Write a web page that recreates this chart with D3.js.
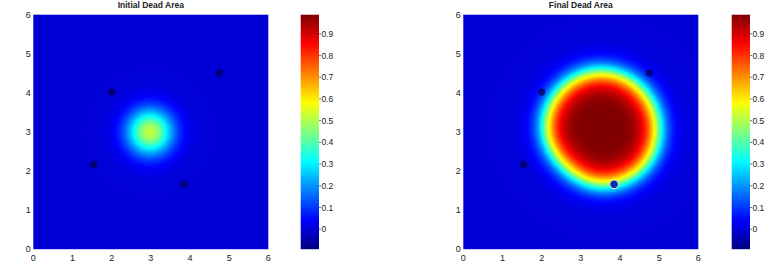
<!DOCTYPE html>
<html>
<head>
<meta charset="utf-8">
<script src="https://cdn.jsdelivr.net/npm/d3@7"></script>
<style>
  html, body { margin: 0; padding: 0; background: #fff; }
  svg { display: block; }
  text { font-family: "Liberation Sans", Arial, Helvetica, sans-serif; fill: #222; }
</style>
</head>
<body>
<script>
// ---------- data ----------
const xTicks = [0, 1, 2, 3, 4, 5, 6];
const yTicks = [0, 1, 2, 3, 4, 5, 6];
const colorbarTicks = [0, 0.1, 0.2, 0.3, 0.4, 0.5, 0.6, 0.7, 0.8, 0.9];
const colorbarLabels = ["0", "0.1", "0.2", "0.3", "0.4", "0.5", "0.6", "0.7", "0.8", "0.9"];
const colorDomain = [-0.092, 0.988];
const titles = ["Initial Dead Area", "Final Dead Area"];

// sensor positions (same in both panels)
const sensorX = [2.0, 4.75, 1.54, 3.85];
const sensorY = [4.02, 4.51, 2.17, 1.66];
const activeSensor = 3; // highlighted in final panel

// initial dead area: small gaussian spot
const initialCenter = [2.98, 3.0];
const initialPeak = 0.52;
const initialSpread = 0.41;

// final dead area: saturated blob, 0.5-contour radius by angle
const finalCenter = [3.53, 3.1];
const finalAngles = [0, 45, 90, 135, 180, 225, 270, 315];
const finalRadii = [1.41, 1.40, 1.42, 1.41, 1.41, 1.35, 1.42, 1.44];
const finalPeak = 1.0;
const finalEdgeInner = 0.2;
const finalEdgeOuter = 0.165;

// ---------- layout ----------
const W = 774, H = 280;
const panels = [
  { x0: 33.3, x1: 268.3, cb0: 300.7, cb1: 319 },
  { x0: 463.3, x1: 698.3, cb0: 731.7, cb1: 750 }
];
const yTop = 14.7, yBot = 249.2;

function jet(t) {
  const c = v => Math.max(0, Math.min(1, v));
  const r = c(Math.min(4 * t - 1.5, -4 * t + 4.5));
  const g = c(Math.min(4 * t - 0.5, -4 * t + 3.5));
  const b = c(Math.min(4 * t + 0.5, -4 * t + 2.5));
  return [Math.round(r * 255), Math.round(g * 255), Math.round(b * 255)];
}
const color = d3.scaleSequential(t => { const [r, g, b] = jet(t); return `rgb(${r},${g},${b})`; })
  .domain(colorDomain).clamp(true);
const norm = d3.scaleLinear().domain(colorDomain).range([0, 1]).clamp(true);

function initialField(x, y) {
  const dx = x - initialCenter[0], dy = y - initialCenter[1];
  return initialPeak * Math.exp(-(dx * dx + dy * dy) / (2 * initialSpread * initialSpread));
}
function radiusAt(angleDeg) {
  const n = finalAngles.length, step = 360 / n;
  let a = ((angleDeg % 360) + 360) % 360;
  const i = Math.floor(a / step), t = (a - i * step) / step;
  const p = k => finalRadii[((k % n) + n) % n];
  const p0 = p(i - 1), p1 = p(i), p2 = p(i + 1), p3 = p(i + 2);
  return 0.5 * ((2 * p1) + (-p0 + p2) * t + (2 * p0 - 5 * p1 + 4 * p2 - p3) * t * t + (-p0 + 3 * p1 - 3 * p2 + p3) * t * t * t);
}
function finalField(x, y) {
  const dx = x - finalCenter[0], dy = y - finalCenter[1];
  const r = Math.sqrt(dx * dx + dy * dy);
  const ang = Math.atan2(dy, dx) * 180 / Math.PI;
  const r0 = radiusAt(ang);
  const w = r < r0 ? finalEdgeInner : finalEdgeOuter;
  return finalPeak / (1 + Math.exp((r - r0) / w));
}
const fields = [initialField, finalField];

const svg = d3.select("body").append("svg").attr("width", W).attr("height", H);

panels.forEach((p, pi) => {
  const x = d3.scaleLinear().domain([0, 6]).range([p.x0, p.x1]);
  const y = d3.scaleLinear().domain([0, 6]).range([yBot, yTop]);

  // heat map image
  const pw = Math.round(p.x1 - p.x0), ph = Math.round(yBot - yTop);
  const canvas = document.createElement("canvas");
  canvas.width = pw; canvas.height = ph;
  const ctx = canvas.getContext("2d");
  const img = ctx.createImageData(pw, ph);
  for (let j = 0; j < ph; j++) {
    const yv = y.invert(yTop + (j + 0.5) * (yBot - yTop) / ph);
    for (let i = 0; i < pw; i++) {
      const xv = x.invert(p.x0 + (i + 0.5) * (p.x1 - p.x0) / pw);
      const v = fields[pi](xv, yv);
      const [r, g, b] = jet(norm(v));
      const k = (j * pw + i) * 4;
      img.data[k] = r; img.data[k + 1] = g; img.data[k + 2] = b; img.data[k + 3] = 255;
    }
  }
  ctx.putImageData(img, 0, 0);
  svg.append("image")
    .attr("x", p.x0).attr("y", yTop)
    .attr("width", p.x1 - p.x0).attr("height", yBot - yTop)
    .attr("preserveAspectRatio", "none")
    .attr("href", canvas.toDataURL());

  // sensors
  const g = svg.append("g");
  sensorX.forEach((sx, si) => {
    if (pi === 1 && si === activeSensor) {
      g.append("circle").attr("cx", x(sx)).attr("cy", y(sensorY[si])).attr("r", 4.3)
        .attr("fill", "#0a2fa8").attr("stroke", "#e8eef8").attr("stroke-width", 1);
    } else {
      g.append("circle").attr("cx", x(sx)).attr("cy", y(sensorY[si])).attr("r", 3.6)
        .attr("fill", "#00004a").attr("opacity", 0.7);
    }
  });

  // axes labels
  svg.append("g").selectAll("text").data(xTicks).join("text")
    .attr("x", d => x(d)).attr("y", 260.5)
    .attr("text-anchor", "middle").attr("font-size", 9).text(d => d);
  svg.append("g").selectAll("text").data(yTicks).join("text")
    .attr("x", p.x0 - 2.5).attr("y", d => y(d) + 3.2)
    .attr("text-anchor", "end").attr("font-size", 9).text(d => d);

  // title
  svg.append("text").attr("x", (p.x0 + p.x1) / 2).attr("y", 7.6)
    .attr("text-anchor", "middle").attr("font-size", 8.5).attr("font-weight", "bold")
    .text(titles[pi]);

  // colorbar
  const cy = d3.scaleLinear().domain(colorDomain).range([yBot, yTop]);
  const gid = "cbgrad" + pi;
  const grad = svg.append("defs").append("linearGradient").attr("id", gid)
    .attr("x1", 0).attr("y1", 1).attr("x2", 0).attr("y2", 0);
  d3.range(0, 65).forEach(k => {
    const t = k / 64;
    grad.append("stop").attr("offset", t)
      .attr("stop-color", color(colorDomain[0] + t * (colorDomain[1] - colorDomain[0])));
  });
  svg.append("rect").attr("x", p.cb0).attr("y", yTop)
    .attr("width", p.cb1 - p.cb0).attr("height", yBot - yTop)
    .attr("fill", `url(#${gid})`);
  const cbg = svg.append("g");
  cbg.selectAll("line").data(colorbarTicks).join("line")
    .attr("x1", p.cb1).attr("x2", p.cb1 + 2)
    .attr("y1", d => cy(d)).attr("y2", d => cy(d))
    .attr("stroke", "#555").attr("stroke-width", 0.8);
  cbg.selectAll("text").data(colorbarTicks).join("text")
    .attr("x", p.cb1 + 2.5).attr("y", d => cy(d) + 3)
    .attr("font-size", 8.5).text((d, i) => colorbarLabels[i]);
});
</script>
</body>
</html>
